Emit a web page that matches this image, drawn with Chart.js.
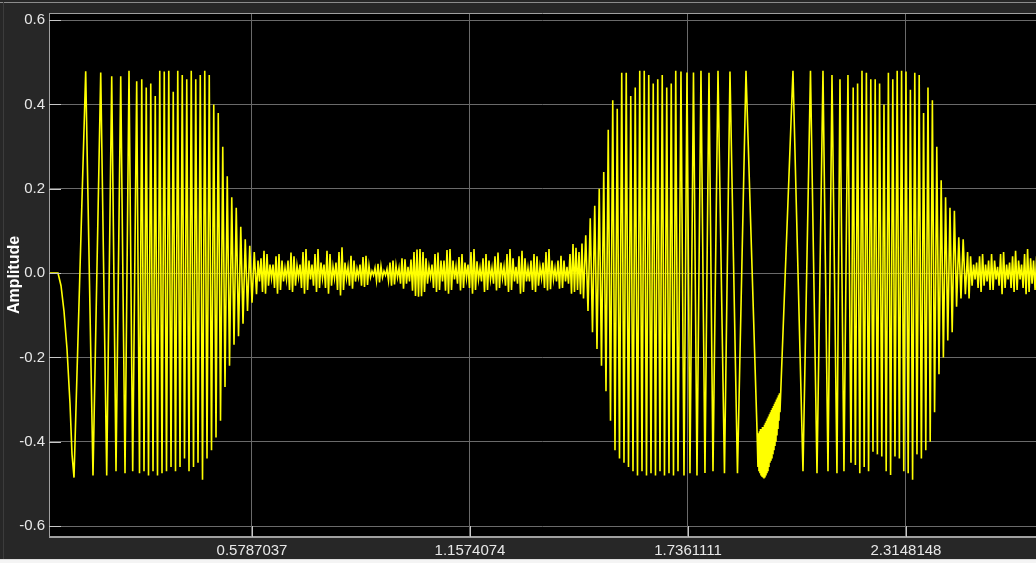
<!DOCTYPE html>
<html><head><meta charset="utf-8">
<script src="https://cdn.jsdelivr.net/npm/chart.js@4/dist/chart.umd.min.js"></script>
<style>html,body{margin:0;padding:0;background:#262626;overflow:hidden}#wrap{width:1036px;height:563px;position:relative}</style>
</head><body><div id="wrap"><canvas id="c" width="1036" height="563"></canvas></div>
<script>
// Axis ticks
const xTicks = [0.5787037, 1.1574074, 1.7361111, 2.3148148];
const yTicks = [-0.6, -0.4, -0.2, 0, 0.2, 0.4, 0.6];

// Lead-in and first slow cycles (explicit sample times, s)
const leadTimes = [0.0398,0.0637,0.0717,0.0796,0.0876,0.0956,0.1009,0.1062,0.1372,0.1566,0.1771,0.1930,0.2063,0.2177,0.2302,0.2416,0.2522,0.2620,0.2726,0.2801];
const leadValues = [0,0,-0.03,-0.09,-0.18,-0.31,-0.43,-0.485,0.479,-0.48,0.476,-0.48,0.467,-0.47,0.467,-0.475,0.48,-0.47,0.455,-0.475];

// First burst, dense part (uniform extreme spacing)
const burst1Start = 0.28604, burst1Step = 0.005973;
const burst1Values = [0.46,-0.47,0.44,-0.48,0.45,-0.47,0.42,-0.48,0.48,-0.475,0.478,-0.47,0.48,-0.46,0.43,-0.47,0.48,-0.46,0.47,-0.44,0.46,-0.47,0.48,-0.46,0.46,-0.45,0.47,-0.49,0.48,-0.44,0.47,-0.42,0.40,-0.39,0.38,-0.35,0.30,-0.27,0.23,-0.22,0.18,-0.17,0.155,-0.15,0.11,-0.12,0.08,-0.09,0.065,-0.07,0.05,-0.05];

// Quiet middle section
const middleStart = 0.59464, middleStep = 0.003982;
const middleValues = [0.03,-0.02,0.035,-0.045,0.053,-0.049,0.045,-0.03,0.02,-0.012,
0.02,-0.035,0.04,-0.049,0.045,-0.04,0.03,-0.02,0.012,-0.015,
0.03,-0.04,0.049,-0.045,0.04,-0.03,0.018,-0.01,0.02,-0.035,
0.05,-0.049,0.057,-0.04,0.03,-0.015,0.02,-0.03,0.045,-0.045,
0.057,-0.035,0.025,-0.012,0.02,-0.035,0.053,-0.049,0.045,-0.03,
0.015,-0.012,0.025,-0.04,0.05,-0.053,0.061,-0.04,0.025,-0.012,
0.015,-0.03,0.041,-0.037,0.03,-0.02,0.01,-0.01,0.02,-0.03,
0.038,-0.033,0.041,-0.028,0.018,-0.01,0.005,-0.005,0.012,-0.018,
0.022,-0.022,0.016,-0.01,0.005,-0.005,0.01,-0.018,0.025,-0.03,
0.03,-0.027,0.018,-0.01,0.012,-0.025,0.035,-0.037,0.033,-0.025,
0.015,-0.02,0.032,-0.042,0.05,-0.054,0.056,-0.056,0.057,-0.055,
0.05,-0.045,0.035,-0.025,0.015,-0.01,0.02,-0.035,0.045,-0.045,
0.049,-0.04,0.03,-0.02,0.03,-0.042,0.055,-0.049,0.057,-0.04,
0.03,-0.015,0.015,-0.025,0.038,-0.041,0.045,-0.035,0.025,-0.012,
0.02,-0.035,0.05,-0.049,0.057,-0.04,0.028,-0.015,0.012,-0.02,
0.035,-0.045,0.045,-0.04,0.03,-0.015,0.012,-0.025,0.04,-0.041,
0.049,-0.035,0.025,-0.012,0.015,-0.03,0.045,-0.045,0.057,-0.04,
0.035,-0.02,0.015,-0.025,0.04,-0.049,0.053,-0.045,0.035,-0.02,
0.012,-0.02,0.03,-0.04,0.045,-0.045,0.04,-0.03,0.015,-0.012,
0.025,-0.035,0.05,-0.041,0.057,-0.038,0.03,-0.015,0.012,-0.02,
0.03,-0.037,0.041,-0.035,0.03,-0.02,0.015,-0.025,0.045,-0.049,
0.069,-0.045,0.06,-0.04,0.05,-0.05,0.07,-0.06];

// Second burst, rising part
const burst2RampStart = 1.46469, burst2RampStep = 0.005973;
const burst2RampValues = [0.09,-0.09,0.13,-0.14,0.16,-0.18,0.2,-0.22,0.24,-0.28,0.34,-0.35,0.41,-0.42,0.39,-0.44,0.475,-0.45,0.475,-0.46,0.42,-0.47,0.44,-0.48,0.48,-0.47,0.48,-0.48,0.47,-0.475,0.45,-0.48,0.46,-0.47,0.47,-0.48,0.44,-0.475,0.45,-0.48,0.48,-0.47];

// Second burst, slow cycles before the deep trough (explicit times, s)
const burst2aTimes = [1.7175,1.7255,1.7335,1.7414,1.7507,1.7600,1.7706,1.7812,1.7919,1.8025,1.8158,1.8330,1.8476,1.8675,1.8901,1.9193];
const burst2aValues = [0.478,-0.48,0.476,-0.475,0.476,-0.48,0.48,-0.474,0.475,-0.47,0.48,-0.475,0.478,-0.475,0.48,-0.37];

// Ripple at the bottom of the deep trough
const troughStart = 1.9219, troughStep = 0.001327;
const troughValues = [-0.46,-0.38,-0.47,-0.375,-0.475,-0.37,-0.48,-0.37,-0.483,-0.365,-0.485,-0.365,-0.487,-0.36,-0.485,-0.355,-0.48,-0.35,-0.475,-0.345,-0.47,-0.34,-0.46,-0.335,-0.45,-0.33,-0.445,-0.325,-0.44,-0.32,-0.43,-0.315,-0.42,-0.31,-0.41,-0.305,-0.40,-0.30,-0.385,-0.295,-0.37,-0.29,-0.35,-0.285,-0.33];

// Second burst, slow cycles after the trough (explicit times, s)
const burst2bTimes = [2.0148,2.0414,2.0613,2.0786,2.0945,2.1078,2.1184,2.1316,2.1396,2.1502,2.1608,2.1688];
const burst2bValues = [0.48,-0.47,0.48,-0.475,0.48,-0.47,0.47,-0.475,0.46,-0.47,0.47,-0.45];

// Second burst, dense part and decay
const burst2DenseStart = 2.17468, burst2DenseStep = 0.00584;
const burst2DenseValues = [0.44,-0.455,0.45,-0.475,0.48,-0.46,0.475,-0.47,0.46,-0.424,0.46,-0.43,0.45,-0.435,0.40,-0.47,0.475,-0.479,0.46,-0.435,0.48,-0.44,0.48,-0.47,0.478,-0.475,0.435,-0.49,0.475,-0.43,0.47,-0.44,0.38,-0.42,0.44,-0.40,0.41,-0.33,0.30,-0.24,0.22,-0.20,0.18,-0.16,0.155,-0.14,0.148,-0.08,0.085,-0.06,0.08,-0.05];

// Quiet tail
const tailStart = 2.47836, tailStep = 0.003982;
const tailValues = [0.05,-0.06,0.04,-0.03,0.02,-0.015,0.025,-0.035,0.04,-0.045,0.045,-0.03,0.02,-0.02,0.03,-0.04,0.045,-0.04,0.03,-0.015,0.015,-0.03,0.045,-0.05,0.05,-0.035,0.02,-0.015,0.025,-0.035,0.04,-0.045,0.053,-0.04,0.03,-0.015,0.02,-0.035,0.045,-0.05,0.057,-0.045,0.035,-0.025,0.03,-0.04,0.04];

const X_MIN = 0.0398, X_MAX = 2.66, Y_MIN = -0.626, Y_MAX = 0.617;

function explicitSeg(ts, vs) { return vs.map((v, i) => ({x: ts[i], y: v})); }
function uniformSeg(t0, dt, vs) { return vs.map((v, i) => ({x: t0 + i * dt, y: v})); }

const points = [].concat(
  explicitSeg(leadTimes, leadValues),
  uniformSeg(burst1Start, burst1Step, burst1Values),
  uniformSeg(middleStart, middleStep, middleValues),
  uniformSeg(burst2RampStart, burst2RampStep, burst2RampValues),
  explicitSeg(burst2aTimes, burst2aValues),
  uniformSeg(troughStart, troughStep, troughValues),
  explicitSeg(burst2bTimes, burst2bValues),
  uniformSeg(burst2DenseStart, burst2DenseStep, burst2DenseValues),
  uniformSeg(tailStart, tailStep, tailValues)
);

const framePlugin = {
  id: 'frame',
  beforeDraw(chart) {
    const c = chart.ctx, a = chart.chartArea, W = chart.width, H = chart.height;
    c.save();
    c.fillStyle = '#272727';
    c.fillRect(0, 0, W, H);
    c.fillStyle = '#8c8c8c';
    c.fillRect(0, 2, W, 1);
    c.fillStyle = '#3c3c3c';
    c.fillRect(3, 2, 1, H - 5);
    c.fillStyle = '#dedede';
    c.fillRect(0, 559, W, 1);
    c.fillStyle = '#f4f4f4';
    c.fillRect(0, 560, W, 3);
    c.fillStyle = '#000000';
    c.fillRect(a.left, a.top, a.right - a.left, a.bottom - a.top);
    c.restore();
  },
  afterDraw(chart) {
    const c = chart.ctx, a = chart.chartArea;
    const xs = chart.scales.x, ys = chart.scales.y;
    c.save();
    c.strokeStyle = '#a0a0a0';
    c.lineWidth = 1;
    c.beginPath();
    c.moveTo(a.left + 0.5, a.top); c.lineTo(a.left + 0.5, a.bottom);
    c.moveTo(a.left, a.top + 0.5); c.lineTo(a.right, a.top + 0.5);
    c.stroke();
    c.lineWidth = 2;
    c.beginPath();
    c.moveTo(a.left, a.bottom); c.lineTo(a.right, a.bottom);
    c.stroke();
    c.strokeStyle = '#c8c8c8';
    c.lineWidth = 1;
    c.beginPath();
    yTicks.forEach(v => { const y = Math.round(ys.getPixelForValue(v)) + 0.5; c.moveTo(a.left, y); c.lineTo(a.left + 12, y); });
    xTicks.forEach(v => { const x = Math.round(xs.getPixelForValue(v)) + 0.5; c.moveTo(x, a.bottom); c.lineTo(x, a.bottom - 11); });
    c.stroke();
    c.restore();
  }
};

new Chart(document.getElementById('c'), {
  type: 'line',
  data: { datasets: [{ data: points, borderColor: '#ffff00', borderWidth: 1.6, pointRadius: 0, tension: 0, fill: false }] },
  options: {
    responsive: false, animation: false, events: [], parsing: false, normalized: true,
    layout: { padding: { top: 12, left: 0, right: 0, bottom: 0 } },
    plugins: { legend: { display: false }, tooltip: { enabled: false } },
    scales: {
      x: {
        type: 'linear', min: X_MIN, max: X_MAX,
        afterBuildTicks: s => { s.ticks = xTicks.map(v => ({ value: v })); },
        afterFit: s => { s.height = 26; },
        grid: { color: '#6a6a6a', lineWidth: 1, drawTicks: false },
        border: { display: false },
        ticks: { color: '#e8e8e8', font: { family: "'Liberation Sans', Arial, sans-serif", size: 15 }, padding: 5, maxRotation: 0, autoSkip: false, callback: v => v.toFixed(7) }
      },
      y: {
        type: 'linear', min: Y_MIN, max: Y_MAX,
        afterBuildTicks: s => { s.ticks = yTicks.map(v => ({ value: v })); },
        afterFit: s => { s.width = 49; },
        grid: { color: '#6a6a6a', lineWidth: 1, drawTicks: false },
        border: { display: false },
        ticks: { color: '#e8e8e8', font: { family: "'Liberation Sans', Arial, sans-serif", size: 15 }, padding: 4, callback: v => v.toFixed(1) },
        title: { display: true, text: 'Amplitude', color: '#ffffff', font: { family: "'Liberation Sans', Arial, sans-serif", size: 16, weight: 'bold' }, padding: { top: 5, bottom: 0 } }
      }
    }
  },
  plugins: [framePlugin]
});
</script>
</body></html>
